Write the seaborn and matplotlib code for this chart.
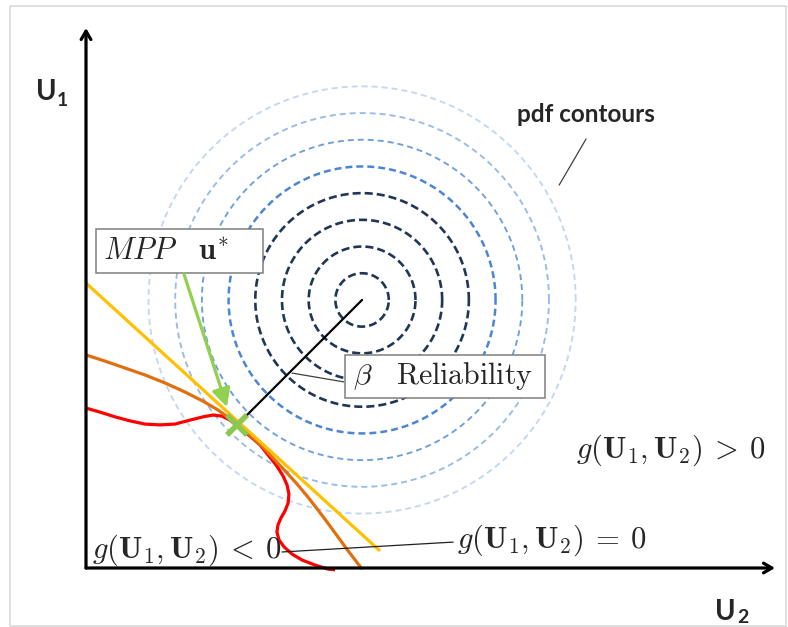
import numpy as np
import matplotlib
matplotlib.use("Agg")
import matplotlib.pyplot as plt
import seaborn as sns
from matplotlib.patches import Rectangle

# ---------------- data (u2 horizontal, u1 vertical) ----------------
center_u2, center_u1 = 10.34, 10.04
contour_radii = [1, 2, 3, 4, 5, 6, 7, 8]
contour_colors = ["#1f3656", "#1f3656", "#1f3656", "#1f3656",
                  "#4a86d2", "#6e9fdd", "#98bbe8", "#c3d7f1"]

tangent_u2 = [0.0, 11.01]
tangent_u1 = [10.67, 0.64]

second_u2 = [0.00, 0.71, 1.46, 2.21, 2.96, 3.71, 4.38, 4.94, 5.47, 5.81, 6.14,
             6.59, 7.04, 7.49, 7.90, 8.31, 8.69, 9.03, 9.44, 9.85, 10.34]
second_u1 = [7.98, 7.75, 7.49, 7.23, 6.93, 6.59, 6.25, 5.92, 5.54, 5.24, 4.98,
             4.57, 4.08, 3.60, 3.15, 2.66, 2.17, 1.72, 1.16, 0.60, -0.04]

limit_u2 = [0.00, 0.52, 1.09, 1.65, 2.21, 2.77, 3.33, 3.90, 4.38, 4.76, 5.09,
            5.39, 5.77, 6.14, 6.52, 6.82, 7.12, 7.38, 7.53, 7.60, 7.57, 7.45,
            7.30, 7.19, 7.15, 7.23, 7.42, 7.72, 8.09, 8.58, 9.06, 9.33]
limit_u1 = [5.99, 5.84, 5.66, 5.51, 5.39, 5.36, 5.39, 5.54, 5.66, 5.73, 5.69,
            5.54, 5.24, 4.94, 4.61, 4.23, 3.86, 3.45, 3.11, 2.77, 2.43, 2.13,
            1.87, 1.61, 1.35, 1.05, 0.79, 0.52, 0.30, 0.11, -0.04, -0.07]

mpp_u2, mpp_u1 = 5.66, 5.36

# ---------------- layout ----------------
S = 26.7          # px per unit
OX, OY = 86, 568  # origin pixel
W, H = 788, 627

sns.set_style("white")
plt.rcParams["mathtext.fontset"] = "cm"
plt.rcParams["font.family"] = ["Lato", "DejaVu Sans"]

fig = plt.figure(figsize=(W / 100, H / 100), dpi=100)
ax = fig.add_axes([0, 0, 1, 1])
ax.set_xlim(-OX / S, (W - OX) / S)
ax.set_ylim((OY - H) / S, OY / S)
ax.axis("off")

# frame
fig.patches.append(Rectangle((10 / W, 0.002), (W - 12) / W, (H - 6) / H - 0.002,
                             transform=fig.transFigure, fill=False,
                             edgecolor="#d9d9d9", lw=1.2))

# contours
t = np.linspace(0, 2 * np.pi, 400)
for r, c in zip(contour_radii, contour_colors):
    if r <= 4:
        lw, on, off = 1.9, 5.8, 2.9
    elif r == 5:
        lw, on, off = 1.8, 5.0, 2.9
    else:
        lw, on, off = 1.35, 4.3, 2.9
    ax.plot(center_u2 + r * np.cos(t), center_u1 + r * np.sin(t), color=c,
            lw=lw, ls=(0, (on / lw, off / lw)), zorder=1)

# limit state curves
sns.lineplot(x=limit_u2, y=limit_u1, sort=False, estimator=None, ax=ax,
             color="#ff0000", lw=2.3, zorder=3)
sns.lineplot(x=second_u2, y=second_u1, sort=False, estimator=None, ax=ax,
             color="#e0700f", lw=2.3, zorder=3)
sns.lineplot(x=tangent_u2, y=tangent_u1, sort=False, estimator=None, ax=ax,
             color="#ffc000", lw=2.3, zorder=4)
for ln in ax.lines:
    ln.set_solid_joinstyle("round")
    ln.set_solid_capstyle("butt")

# beta line
ax.plot([center_u2, mpp_u2], [center_u1, mpp_u1], color="black", lw=1.6, zorder=5)

# axes arrows
ax.annotate("", xy=((775 - OX) / S, 0), xytext=(0, 0),
            arrowprops=dict(arrowstyle="->,head_length=0.6,head_width=0.35",
                            lw=2.3, color="black", shrinkA=0, shrinkB=0), zorder=8)
ax.annotate("", xy=(0, (OY - 28) / S), xytext=(0, 0),
            arrowprops=dict(arrowstyle="->,head_length=0.6,head_width=0.35",
                            lw=2.3, color="black", shrinkA=0, shrinkB=0), zorder=8)

# boxes
ax.add_patch(Rectangle((0.37, 11.05), 6.26, 1.65, facecolor="white",
                       edgecolor="#7f7f7f", lw=1.1, zorder=6))
ax.add_patch(Rectangle((9.70, 6.37), 7.49, 1.61, facecolor="white",
                       edgecolor="#7f7f7f", lw=1.1, zorder=6))

# green arrow and MPP marker
ax.annotate("", xy=(5.28, 6.03), xytext=(3.67, 11.01),
            arrowprops=dict(arrowstyle="-|>,head_length=0.55,head_width=0.28",
                            lw=2.3, color="#92d050", shrinkA=0, shrinkB=0,
                            mutation_scale=20), zorder=7)
ax.plot([mpp_u2], [mpp_u1], marker="x", ms=14, mew=4, color="#8cc751", zorder=9)

# leader lines
ax.plot([7.72, 9.66], [7.30, 6.97], color="#404040", lw=0.9, zorder=5)
ax.plot([7.34, 13.75], [0.60, 0.97], color="#202020", lw=0.9, zorder=5)
ax.plot([18.73, 17.72], [16.07, 14.34], color="#404040", lw=0.9, zorder=5)

# texts
ax.text(0.62, 11.87, r"$MPP\quad\mathbf{u}^{*}$", fontsize=22, va="center",
        ha="left", zorder=10)
ax.text(10.0, 7.19, r"$\beta\quad\mathrm{Reliability}$", fontsize=21.5,
        va="center", ha="left", zorder=10)
ax.text(0.22, 0.67, r"$g(\mathbf{U}_1,\mathbf{U}_2) \:<\: 0$", fontsize=22,
        va="center", ha="left", zorder=10)
ax.text(13.90, 1.05, r"$g(\mathbf{U}_1,\mathbf{U}_2) \:=\: 0$", fontsize=22,
        va="center", ha="left", zorder=10)
ax.text(18.36, 4.42, r"$g(\mathbf{U}_1,\mathbf{U}_2) \:>\: 0$", fontsize=22,
        va="center", ha="left", zorder=10)
ax.text(16.14, 16.97, "pdf contours", fontsize=17.5, fontweight="bold",
        va="center", ha="left", zorder=10)

# axis labels
ax.text((36 - OX) / S, (OY - 100) / S, "U", fontsize=20, fontweight="bold",
        va="baseline", ha="left")
ax.text((57 - OX) / S, (OY - 106) / S, "1", fontsize=14, fontweight="bold",
        va="baseline", ha="left")
ax.text((715 - OX) / S, (OY - 620) / S, "U", fontsize=20, fontweight="bold",
        va="baseline", ha="left")
ax.text((737 - OX) / S, (OY - 623) / S, "2", fontsize=14, fontweight="bold",
        va="baseline", ha="left")

fig.savefig("out.png", dpi=100)
